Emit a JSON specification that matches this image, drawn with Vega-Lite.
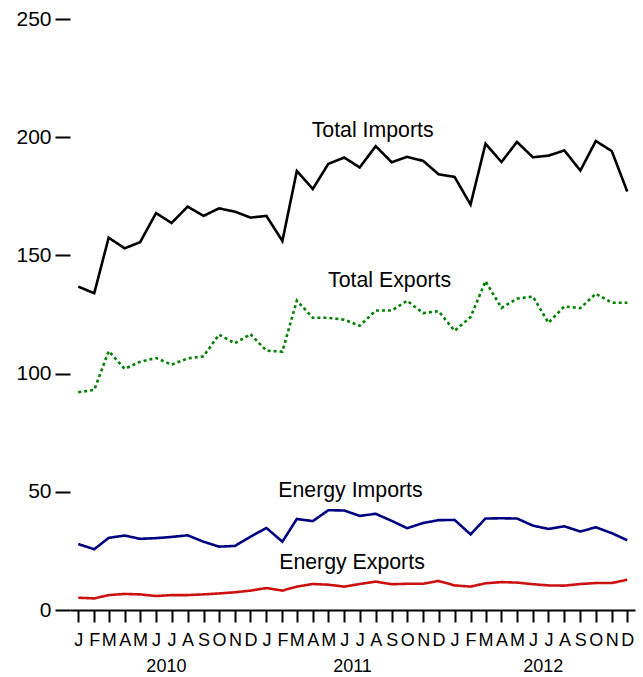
{
  "$schema": "https://vega.github.io/schema/vega-lite/v6.json",
  "width": 565,
  "height": 591,
  "autosize": {"type": "none"},
  "padding": {"left": 70, "top": 19, "right": 8, "bottom": 67},
  "background": "white",
  "config": {"view": {"stroke": null}, "font": "Liberation Sans"},
  "datasets": {
    "series": [
      {"date": "2010-01-01", "series": "Total Imports", "value": 136.8},
      {"date": "2010-02-01", "series": "Total Imports", "value": 134.0},
      {"date": "2010-03-01", "series": "Total Imports", "value": 157.5},
      {"date": "2010-04-01", "series": "Total Imports", "value": 153.0},
      {"date": "2010-05-01", "series": "Total Imports", "value": 155.6},
      {"date": "2010-06-01", "series": "Total Imports", "value": 167.9},
      {"date": "2010-07-01", "series": "Total Imports", "value": 163.7},
      {"date": "2010-08-01", "series": "Total Imports", "value": 170.6},
      {"date": "2010-09-01", "series": "Total Imports", "value": 166.7},
      {"date": "2010-10-01", "series": "Total Imports", "value": 169.9},
      {"date": "2010-11-01", "series": "Total Imports", "value": 168.5},
      {"date": "2010-12-01", "series": "Total Imports", "value": 166.0},
      {"date": "2011-01-01", "series": "Total Imports", "value": 166.7},
      {"date": "2011-02-01", "series": "Total Imports", "value": 156.1},
      {"date": "2011-03-01", "series": "Total Imports", "value": 185.7},
      {"date": "2011-04-01", "series": "Total Imports", "value": 178.1},
      {"date": "2011-05-01", "series": "Total Imports", "value": 188.7},
      {"date": "2011-06-01", "series": "Total Imports", "value": 191.4},
      {"date": "2011-07-01", "series": "Total Imports", "value": 187.2},
      {"date": "2011-08-01", "series": "Total Imports", "value": 196.2},
      {"date": "2011-09-01", "series": "Total Imports", "value": 189.4},
      {"date": "2011-10-01", "series": "Total Imports", "value": 191.7},
      {"date": "2011-11-01", "series": "Total Imports", "value": 190.0},
      {"date": "2011-12-01", "series": "Total Imports", "value": 184.3},
      {"date": "2012-01-01", "series": "Total Imports", "value": 183.2},
      {"date": "2012-02-01", "series": "Total Imports", "value": 171.5},
      {"date": "2012-03-01", "series": "Total Imports", "value": 197.2},
      {"date": "2012-04-01", "series": "Total Imports", "value": 189.5},
      {"date": "2012-05-01", "series": "Total Imports", "value": 198.0},
      {"date": "2012-06-01", "series": "Total Imports", "value": 191.5},
      {"date": "2012-07-01", "series": "Total Imports", "value": 192.2},
      {"date": "2012-08-01", "series": "Total Imports", "value": 194.4},
      {"date": "2012-09-01", "series": "Total Imports", "value": 185.9},
      {"date": "2012-10-01", "series": "Total Imports", "value": 198.4},
      {"date": "2012-11-01", "series": "Total Imports", "value": 194.1},
      {"date": "2012-12-01", "series": "Total Imports", "value": 177.0},
      {"date": "2010-01-01", "series": "Total Exports", "value": 92.1},
      {"date": "2010-02-01", "series": "Total Exports", "value": 93.1},
      {"date": "2010-03-01", "series": "Total Exports", "value": 109.5},
      {"date": "2010-04-01", "series": "Total Exports", "value": 102.0},
      {"date": "2010-05-01", "series": "Total Exports", "value": 105.0},
      {"date": "2010-06-01", "series": "Total Exports", "value": 106.6},
      {"date": "2010-07-01", "series": "Total Exports", "value": 103.8},
      {"date": "2010-08-01", "series": "Total Exports", "value": 106.4},
      {"date": "2010-09-01", "series": "Total Exports", "value": 107.3},
      {"date": "2010-10-01", "series": "Total Exports", "value": 116.5},
      {"date": "2010-11-01", "series": "Total Exports", "value": 112.8},
      {"date": "2010-12-01", "series": "Total Exports", "value": 116.7},
      {"date": "2011-01-01", "series": "Total Exports", "value": 109.7},
      {"date": "2011-02-01", "series": "Total Exports", "value": 109.3},
      {"date": "2011-03-01", "series": "Total Exports", "value": 130.9},
      {"date": "2011-04-01", "series": "Total Exports", "value": 123.6},
      {"date": "2011-05-01", "series": "Total Exports", "value": 123.6},
      {"date": "2011-06-01", "series": "Total Exports", "value": 122.8},
      {"date": "2011-07-01", "series": "Total Exports", "value": 120.2},
      {"date": "2011-08-01", "series": "Total Exports", "value": 126.7},
      {"date": "2011-09-01", "series": "Total Exports", "value": 126.7},
      {"date": "2011-10-01", "series": "Total Exports", "value": 130.8},
      {"date": "2011-11-01", "series": "Total Exports", "value": 125.6},
      {"date": "2011-12-01", "series": "Total Exports", "value": 126.4},
      {"date": "2012-01-01", "series": "Total Exports", "value": 118.1},
      {"date": "2012-02-01", "series": "Total Exports", "value": 123.9},
      {"date": "2012-03-01", "series": "Total Exports", "value": 139.1},
      {"date": "2012-04-01", "series": "Total Exports", "value": 127.8},
      {"date": "2012-05-01", "series": "Total Exports", "value": 131.7},
      {"date": "2012-06-01", "series": "Total Exports", "value": 132.6},
      {"date": "2012-07-01", "series": "Total Exports", "value": 121.5},
      {"date": "2012-08-01", "series": "Total Exports", "value": 128.4},
      {"date": "2012-09-01", "series": "Total Exports", "value": 127.7},
      {"date": "2012-10-01", "series": "Total Exports", "value": 133.8},
      {"date": "2012-11-01", "series": "Total Exports", "value": 130.0},
      {"date": "2012-12-01", "series": "Total Exports", "value": 130.0},
      {"date": "2010-01-01", "series": "Energy Imports", "value": 27.9},
      {"date": "2010-02-01", "series": "Energy Imports", "value": 25.7},
      {"date": "2010-03-01", "series": "Energy Imports", "value": 30.5},
      {"date": "2010-04-01", "series": "Energy Imports", "value": 31.5},
      {"date": "2010-05-01", "series": "Energy Imports", "value": 30.1},
      {"date": "2010-06-01", "series": "Energy Imports", "value": 30.4},
      {"date": "2010-07-01", "series": "Energy Imports", "value": 30.9},
      {"date": "2010-08-01", "series": "Energy Imports", "value": 31.6},
      {"date": "2010-09-01", "series": "Energy Imports", "value": 28.9},
      {"date": "2010-10-01", "series": "Energy Imports", "value": 26.8},
      {"date": "2010-11-01", "series": "Energy Imports", "value": 27.1},
      {"date": "2010-12-01", "series": "Energy Imports", "value": 31.0},
      {"date": "2011-01-01", "series": "Energy Imports", "value": 34.7},
      {"date": "2011-02-01", "series": "Energy Imports", "value": 28.9},
      {"date": "2011-03-01", "series": "Energy Imports", "value": 38.5},
      {"date": "2011-04-01", "series": "Energy Imports", "value": 37.6},
      {"date": "2011-05-01", "series": "Energy Imports", "value": 42.2},
      {"date": "2011-06-01", "series": "Energy Imports", "value": 42.1},
      {"date": "2011-07-01", "series": "Energy Imports", "value": 39.8},
      {"date": "2011-08-01", "series": "Energy Imports", "value": 40.7},
      {"date": "2011-09-01", "series": "Energy Imports", "value": 37.7},
      {"date": "2011-10-01", "series": "Energy Imports", "value": 34.6},
      {"date": "2011-11-01", "series": "Energy Imports", "value": 36.8},
      {"date": "2011-12-01", "series": "Energy Imports", "value": 38.0},
      {"date": "2012-01-01", "series": "Energy Imports", "value": 38.1},
      {"date": "2012-02-01", "series": "Energy Imports", "value": 32.0},
      {"date": "2012-03-01", "series": "Energy Imports", "value": 38.7},
      {"date": "2012-04-01", "series": "Energy Imports", "value": 38.8},
      {"date": "2012-05-01", "series": "Energy Imports", "value": 38.7},
      {"date": "2012-06-01", "series": "Energy Imports", "value": 35.7},
      {"date": "2012-07-01", "series": "Energy Imports", "value": 34.3},
      {"date": "2012-08-01", "series": "Energy Imports", "value": 35.4},
      {"date": "2012-09-01", "series": "Energy Imports", "value": 33.2},
      {"date": "2012-10-01", "series": "Energy Imports", "value": 35.0},
      {"date": "2012-11-01", "series": "Energy Imports", "value": 32.5},
      {"date": "2012-12-01", "series": "Energy Imports", "value": 29.5},
      {"date": "2010-01-01", "series": "Energy Exports", "value": 5.2},
      {"date": "2010-02-01", "series": "Energy Exports", "value": 4.9},
      {"date": "2010-03-01", "series": "Energy Exports", "value": 6.3},
      {"date": "2010-04-01", "series": "Energy Exports", "value": 6.8},
      {"date": "2010-05-01", "series": "Energy Exports", "value": 6.6},
      {"date": "2010-06-01", "series": "Energy Exports", "value": 5.9},
      {"date": "2010-07-01", "series": "Energy Exports", "value": 6.3},
      {"date": "2010-08-01", "series": "Energy Exports", "value": 6.3},
      {"date": "2010-09-01", "series": "Energy Exports", "value": 6.6},
      {"date": "2010-10-01", "series": "Energy Exports", "value": 7.0},
      {"date": "2010-11-01", "series": "Energy Exports", "value": 7.5},
      {"date": "2010-12-01", "series": "Energy Exports", "value": 8.2},
      {"date": "2011-01-01", "series": "Energy Exports", "value": 9.3},
      {"date": "2011-02-01", "series": "Energy Exports", "value": 8.2},
      {"date": "2011-03-01", "series": "Energy Exports", "value": 9.9},
      {"date": "2011-04-01", "series": "Energy Exports", "value": 11.0},
      {"date": "2011-05-01", "series": "Energy Exports", "value": 10.7},
      {"date": "2011-06-01", "series": "Energy Exports", "value": 9.9},
      {"date": "2011-07-01", "series": "Energy Exports", "value": 11.0},
      {"date": "2011-08-01", "series": "Energy Exports", "value": 12.0},
      {"date": "2011-09-01", "series": "Energy Exports", "value": 10.9},
      {"date": "2011-10-01", "series": "Energy Exports", "value": 11.1},
      {"date": "2011-11-01", "series": "Energy Exports", "value": 11.1},
      {"date": "2011-12-01", "series": "Energy Exports", "value": 12.3},
      {"date": "2012-01-01", "series": "Energy Exports", "value": 10.4},
      {"date": "2012-02-01", "series": "Energy Exports", "value": 9.9},
      {"date": "2012-03-01", "series": "Energy Exports", "value": 11.3},
      {"date": "2012-04-01", "series": "Energy Exports", "value": 11.8},
      {"date": "2012-05-01", "series": "Energy Exports", "value": 11.6},
      {"date": "2012-06-01", "series": "Energy Exports", "value": 10.9},
      {"date": "2012-07-01", "series": "Energy Exports", "value": 10.4},
      {"date": "2012-08-01", "series": "Energy Exports", "value": 10.3},
      {"date": "2012-09-01", "series": "Energy Exports", "value": 11.0},
      {"date": "2012-10-01", "series": "Energy Exports", "value": 11.4},
      {"date": "2012-11-01", "series": "Energy Exports", "value": 11.4},
      {"date": "2012-12-01", "series": "Energy Exports", "value": 12.8}
    ],
    "labels": [
      {"date": "2011-07-26", "value": 200.2, "label": "Total Imports"},
      {"date": "2011-08-28", "value": 136.8, "label": "Total Exports"},
      {"date": "2011-06-13", "value": 47.7, "label": "Energy Imports"},
      {"date": "2011-06-16", "value": 17.2, "label": "Energy Exports"}
    ]
  },
  "resolve": {"axis": {"x": "independent"}},
  "layer": [
    {
      "data": {"name": "series"},
      "mark": {"type": "line", "strokeWidth": 2.6},
      "encoding": {
        "x": {
          "field": "date",
          "type": "temporal",
          "scale": {
            "type": "utc",
            "domain": [
              {"year": 2009, "month": 12, "date": 16, "utc": true},
              {"year": 2012, "month": 12, "date": 16, "utc": true}
            ]
          },
          "axis": {
            "orient": "bottom",
            "title": null,
            "grid": false,
            "tickCount": {"interval": "month", "step": 1},
            "labelExpr": "substring(utcFormat(datum.value, '%b'), 0, 1)",
            "tickSize": 12,
            "tickWidth": 2,
            "tickColor": "black",
            "domainColor": "black",
            "domainWidth": 2,
            "labelFontSize": 18,
            "labelPadding": 9,
            "labelColor": "black",
            "labelOverlap": false,
            "labelFlush": false,
            "labelBound": false,
            "labelAngle": 0
          }
        },
        "y": {
          "field": "value",
          "type": "quantitative",
          "scale": {"domain": [0, 250], "nice": false},
          "axis": {
            "title": null,
            "grid": false,
            "values": [0, 50, 100, 150, 200, 250],
            "domain": false,
            "tickSize": 15,
            "tickWidth": 2,
            "tickColor": "black",
            "labelFontSize": 21,
            "labelPadding": 4,
            "labelColor": "black"
          }
        },
        "color": {
          "field": "series",
          "type": "nominal",
          "legend": null,
          "scale": {
            "domain": ["Total Imports", "Total Exports", "Energy Imports", "Energy Exports"],
            "range": ["#000000", "#008000", "#000080", "#CC1111"]
          }
        },
        "strokeDash": {
          "field": "series",
          "type": "nominal",
          "legend": null,
          "scale": {
            "domain": ["Total Imports", "Total Exports", "Energy Imports", "Energy Exports"],
            "range": [[1, 0], [3, 3], [1, 0], [1, 0]]
          }
        }
      }
    },
    {
      "data": {"name": "labels"},
      "mark": {"type": "text", "fontSize": 21.3, "align": "center", "baseline": "alphabetic", "color": "black"},
      "encoding": {
        "x": {
          "field": "date",
          "type": "temporal",
          "axis": {
            "orient": "bottom",
            "title": null,
            "grid": false,
            "values": [
              {"year": 2010, "month": 6, "date": 20, "utc": true},
              {"year": 2011, "month": 6, "date": 16, "utc": true},
              {"year": 2012, "month": 6, "date": 20, "utc": true}
            ],
            "labelExpr": "utcFormat(datum.value, '%Y')",
            "ticks": false,
            "domain": false,
            "labelPadding": 47,
            "labelFontSize": 18,
            "labelColor": "black",
            "labelOverlap": false,
            "labelFlush": false,
            "labelBound": false,
            "labelAngle": 0
          }
        },
        "y": {"field": "value", "type": "quantitative"},
        "text": {"field": "label"}
      }
    }
  ]
}
